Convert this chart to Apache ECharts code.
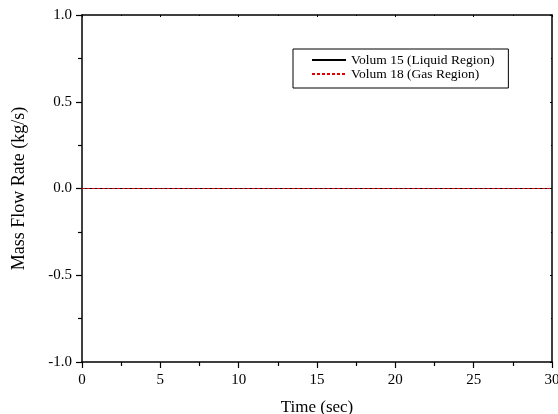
<!DOCTYPE html>
<html>
<head>
<meta charset="utf-8">
<script src="https://cdn.jsdelivr.net/npm/echarts@6/dist/echarts.min.js"></script>
<style>
  html, body { margin: 0; padding: 0; background: #fff; }
  #chart { width: 558px; height: 414px; }
</style>
</head>
<body>
<div id="chart"></div>
<script>
var time = [0, 5, 10, 15, 20, 25, 30],
    liquid = [0, 0, 0, 0, 0, 0, 0],
    gas = [0, 0, 0, 0, 0, 0, 0];

var font = 'Liberation Serif';

var pairs = function (xs, ys) {
    return xs.map(function (x, i) { return [x, ys[i]]; });
};

var chart = echarts.init(document.getElementById('chart'));
chart.setOption({
    animation: false,
    textStyle: { fontFamily: font },
    grid: { left: 82, right: 6, top: 15, bottom: 52, containLabel: false, outerBoundsMode: 'none' },
    legend: {
        orient: 'vertical',
        left: 293,
        top: 49,
        padding: [4, 14, 7, 18],
        itemGap: 0,
        itemWidth: 34,
        itemHeight: 14,
        borderColor: '#000',
        borderWidth: 1,
        itemStyle: { color: 'transparent', borderColor: 'transparent', borderWidth: 0, opacity: 0 },
        textStyle: { fontFamily: font, fontSize: 13.5, color: '#000' },
        data: ['Volum 15 (Liquid Region)', 'Volum 18 (Gas Region)']
    },
    xAxis: [{
        type: 'value', min: 0, max: 30, interval: 5,
        name: 'Time (sec)', nameLocation: 'middle', nameGap: 37,
        nameTextStyle: { fontFamily: font, fontSize: 17, color: '#000' },
        axisLine: { onZero: false, lineStyle: { color: '#000', width: 1.5 } },
        axisTick: { length: 6, lineStyle: { color: '#000', width: 1.2 } },
        minorTick: { show: true, splitNumber: 2, length: 4, lineStyle: { color: '#000', width: 1.2 } },
        axisLabel: { fontFamily: font, fontSize: 15, color: '#000', margin: 11 },
        splitLine: { show: false }
    }, {
        type: 'value', position: 'top', min: 0, max: 30, interval: 5,
        axisLine: { show: true, onZero: false, lineStyle: { color: '#000', width: 1.5 } },
        axisTick: { inside: true, length: 2, lineStyle: { color: '#000' } },
        minorTick: { show: true, splitNumber: 2, length: 1, lineStyle: { color: '#000' } },
        axisLabel: { show: false },
        splitLine: { show: false }
    }],
    yAxis: [{
        type: 'value', min: -1, max: 1, interval: 0.5,
        name: 'Mass Flow Rate (kg/s)', nameLocation: 'middle', nameGap: 54,
        nameTextStyle: { fontFamily: font, fontSize: 18, color: '#000' },
        axisLine: { onZero: false, lineStyle: { color: '#000', width: 1.5 } },
        axisTick: { length: 6, lineStyle: { color: '#000', width: 1.2 } },
        minorTick: { show: true, splitNumber: 2, length: 4, lineStyle: { color: '#000', width: 1.2 } },
        axisLabel: {
            fontFamily: font, fontSize: 15, color: '#000', margin: 10,
            formatter: function (v) { return v.toFixed(1); }
        },
        splitLine: { show: false }
    }, {
        type: 'value', position: 'right', min: -1, max: 1, interval: 0.5,
        axisLine: { show: true, onZero: false, lineStyle: { color: '#000', width: 1.5 } },
        axisTick: { inside: true, length: 2, lineStyle: { color: '#000' } },
        minorTick: { show: true, splitNumber: 2, length: 1, lineStyle: { color: '#000' } },
        axisLabel: { show: false },
        splitLine: { show: false }
    }],
    series: [{
        name: 'Volum 15 (Liquid Region)', type: 'line', symbol: 'none',
        data: pairs(time, liquid),
        lineStyle: { color: '#000', width: 1 },
        itemStyle: { color: '#000' }
    }, {
        name: 'Volum 18 (Gas Region)', type: 'line', symbol: 'none',
        data: pairs(time, gas),
        lineStyle: { color: '#e00000', width: 1, type: [3, 2] },
        itemStyle: { color: '#e00000' }
    }]
});
</script>
</body>
</html>
